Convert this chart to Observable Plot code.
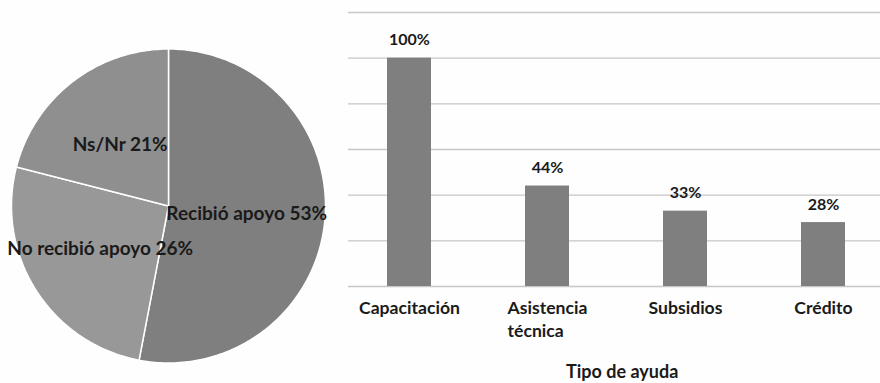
<!DOCTYPE html>
<html>
<head>
<meta charset="utf-8">
<script src="https://cdn.jsdelivr.net/npm/d3@7"></script>
<script src="https://cdn.jsdelivr.net/npm/@observablehq/plot@0.6"></script>
<style>
  html, body { margin: 0; padding: 0; background: #fefefe; }
  #chart { position: relative; width: 880px; height: 383px; overflow: hidden; }
  #pie, #bars { position: absolute; top: 0; }
  #pie { left: 0; }
  #bars { left: 340px; }
</style>
</head>
<body>
<div id="chart">
  <div id="pie"></div>
  <div id="bars"></div>
</div>
<script>
// Distribución: ¿recibió apoyo?
const pieLabels = ["Recibió apoyo", "No recibió apoyo", "Ns/Nr"];
const pieValues = [53, 26, 21];
const pieColors = ["#7f7f7f", "#989898", "#8f8f8f"];

// Tipo de ayuda recibida
const barCategories = ["Capacitación", "Asistencia técnica", "Subsidios", "Crédito"];
const barValues = [100, 44, 33, 28];
const barTickLabels = ["Capacitación", "Asistencia\ntécnica", "Subsidios", "Crédito"];
const yTicks = [0, 20, 40, 60, 80, 100, 120];

const font = "Lato, 'DejaVu Sans', sans-serif";
const textColor = "#1a1a1a";
const tickFontSize = 17.6;

// ---------- Pie ----------
const pieData = pieLabels.map((label, i) => ({label, value: pieValues[i]}));
const arcs = d3.pie().sort(null).value(d => d.value)(pieData);

// Slice polygons on a unit circle; angles run clockwise from 12 o'clock, y grows downward.
const pt = (a, r = 1) => [r * Math.sin(a), -r * Math.cos(a)];
function sliceRing(a0, a1) {
  const n = Math.max(2, Math.ceil((a1 - a0) / (Math.PI / 180)));
  const ring = [[0, 0]];
  for (let i = 0; i <= n; ++i) ring.push(pt(a0 + (a1 - a0) * i / n));
  ring.push([0, 0]);
  return ring;
}
const sliceFeatures = arcs.map(a => ({
  type: "Feature",
  properties: {label: a.data.label, value: a.data.value},
  geometry: {type: "Polygon", coordinates: [sliceRing(a.startAngle, a.endAngle)]}
}));
const disc = {type: "Polygon", coordinates: [sliceRing(0, 2 * Math.PI)]};

// Label placement inside the disc (unit-circle coordinates)
const labelPlacement = {
  "Recibió apoyo": {x: 0.498, y: 0.049},
  "No recibió apoyo": {x: -0.435, y: 0.276},
  "Ns/Nr": {x: -0.308, y: -0.388}
};
const pieText = arcs.map(a => ({
  ...labelPlacement[a.data.label],
  text: `${a.data.label} ${a.data.value}%`
}));

const pie = Plot.plot({
  width: 340,
  height: 383,
  marginLeft: 11,
  marginRight: 15,
  marginTop: 48.5,
  marginBottom: 20.5,
  projection: {type: "identity", domain: disc, inset: 0},
  color: {domain: pieLabels, range: pieColors},
  style: {fontFamily: font, fontWeight: "bold", fontSize: "19px", background: "transparent", overflow: "visible"},
  marks: [
    Plot.geo(sliceFeatures, {fill: d => d.properties.label, stroke: "#ffffff", strokeWidth: 1.5}),
    Plot.text(pieText, {x: "x", y: "y", text: "text", fill: textColor})
  ]
});
document.getElementById("pie").appendChild(pie);

// ---------- Bars ----------
const barData = barCategories.map((category, i) => ({category, value: barValues[i]}));
const tickLabel = new Map(barCategories.map((c, i) => [c, barTickLabels[i]]));

// Wrapped category labels: the block is centred under its bar, lines are left-aligned.
const ctx = document.createElement("canvas").getContext("2d");
ctx.font = `bold ${tickFontSize}px ${font}`;
const blockWidth = s => d3.max(s.split("\n"), line => ctx.measureText(line).width);
const categoryLabels = barData.map(d => Plot.text([d], {
  x: "category",
  frameAnchor: "bottom",
  lineAnchor: "top",
  textAnchor: "start",
  text: d => tickLabel.get(d.category),
  dx: -blockWidth(tickLabel.get(d.category)) / 2,
  dy: 11,
  lineHeight: 1.31,
  fontSize: tickFontSize,
  fill: textColor
}));

const bars = Plot.plot({
  width: 540,
  height: 383,
  marginLeft: 8,
  marginRight: 0,
  marginTop: 12,
  marginBottom: 97,
  x: {domain: barCategories, range: [-48.8, 601.4], padding: 0.683, axis: null},
  y: {domain: [0, 120], axis: null},
  style: {fontFamily: font, fontWeight: "bold", fontSize: `${tickFontSize}px`, color: textColor, background: "transparent", overflow: "visible"},
  marks: [
    Plot.ruleY(yTicks, {stroke: "#c6c6c6", strokeWidth: 1.3}),
    Plot.barY(barData, {x: "category", y: "value", fill: "#7f7f7f"}),
    Plot.text(barData, {x: "category", y: "value", text: d => `${d.value}%`, dy: -17.8, fontSize: 16, fill: textColor}),
    ...categoryLabels,
    Plot.text(["Tipo de ayuda"], {frameAnchor: "bottom", lineAnchor: "middle", dx: 7.7, dy: 86.2, fontSize: 18, fill: textColor})
  ]
});
document.getElementById("bars").appendChild(bars);
</script>
</body>
</html>
